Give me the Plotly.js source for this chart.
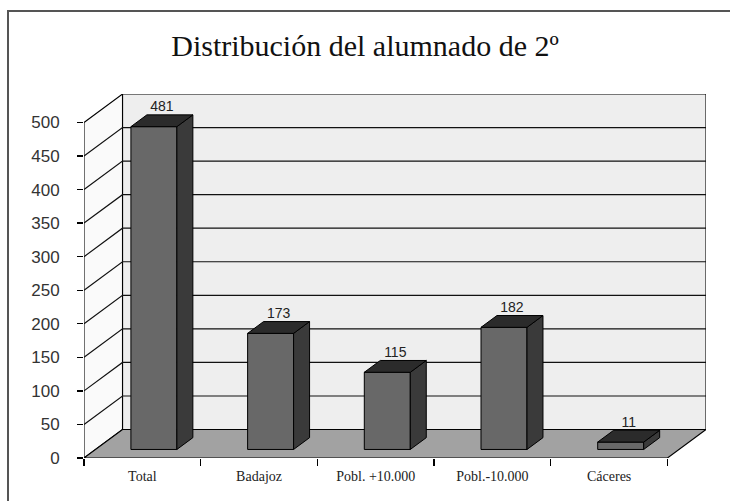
<!DOCTYPE html>
<html>
<head>
<meta charset="utf-8">
<script src="https://cdn.plot.ly/plotly-3.0.1.min.js"></script>
<style>
  html, body { margin: 0; padding: 0; background: #ffffff; }
  #wrap { position: relative; width: 730px; height: 501px; overflow: hidden; }
  #chart { width: 730px; height: 501px; }
  #frame { position: absolute; left: 7px; top: 10px; width: 760px; height: 540px;
           border-left: 2px solid #555; border-top: 2px solid #555; pointer-events: none; }
</style>
</head>
<body>
<div id="wrap">
  <div id="chart"></div>
  <div id="frame"></div>
</div>
<script>
// ---- data ----
const categories = ['Total', 'Badajoz', 'Pobl. +10.000', 'Pobl.-10.000', 'Cáceres'];
const values = [481, 173, 115, 182, 11];
const yTicks = [0, 50, 100, 150, 200, 250, 300, 350, 400, 450, 500];
const titleText = 'Distribución del alumnado de 2º';

// ---- pseudo-3D geometry (in axis units) ----
const DX = 0.33;   // depth offset along x (category units)
const DY = 42.4;   // depth offset along y (value units)
const FD0 = 0.30;  // front face depth fraction of bars
const FD1 = 0.715; // back face depth fraction of bars
const BW = 0.394;  // bar width
const YMAX = yTicks[yTicks.length - 1];
const n = categories.length;
const idx = categories.map((_, i) => i);

function pathOf(xs, ys) {
  return xs.map((x, k) => (k === 0 ? 'M' : 'L') + x + ',' + ys[k]).join(' ') + ' Z';
}

const shapes = [];
const edge = {color: '#000', width: 1.1};
// back wall
shapes.push({type: 'path', xref: 'x', yref: 'y', layer: 'below', line: edge, fillcolor: '#eeeeee',
  path: pathOf([-0.5 + DX, n - 0.5 + DX, n - 0.5 + DX, -0.5 + DX], [DY, DY, YMAX + DY, YMAX + DY])});
// left wall
shapes.push({type: 'path', xref: 'x', yref: 'y', layer: 'below', line: edge, fillcolor: '#fafafa',
  path: pathOf([-0.5, -0.5 + DX, -0.5 + DX, -0.5], [0, DY, YMAX + DY, YMAX])});
// floor
shapes.push({type: 'path', xref: 'x', yref: 'y', layer: 'below', line: edge, fillcolor: '#a2a2a2',
  path: pathOf([-0.5, n - 0.5, n - 0.5 + DX, -0.5 + DX], [0, 0, DY, DY])});
// gridlines
yTicks.forEach(t => {
  if (t === 0 || t === YMAX) return;
  shapes.push({type: 'path', xref: 'x', yref: 'y', layer: 'below',
    line: {color: '#111', width: 1.2},
    path: 'M' + (-0.5) + ',' + t + ' L' + (-0.5 + DX) + ',' + (t + DY) + ' L' + (n - 0.5 + DX) + ',' + (t + DY)});
});

const traces = [];
// bar front faces
traces.push({type: 'bar', hoverinfo: 'skip', showlegend: false,
  x: idx.map(i => i + FD0 * DX), y: values, base: values.map(() => FD0 * DY),
  width: BW, marker: {color: '#686868', line: {color: '#000', width: 1}}});

// bar side and top faces
const dd = FD1 - FD0;
values.forEach((v, i) => {
  const xl = i + FD0 * DX - BW / 2;
  const xr = i + FD0 * DX + BW / 2;
  const b = FD0 * DY;
  traces.push({type: 'scatter', mode: 'lines', hoverinfo: 'skip', showlegend: false,
    x: [xr, xr + dd * DX, xr + dd * DX, xr, xr],
    y: [b, b + dd * DY, b + v + dd * DY, b + v, b],
    fill: 'toself', fillcolor: '#3a3a3a', line: {color: '#000', width: 1}});
  traces.push({type: 'scatter', mode: 'lines', hoverinfo: 'skip', showlegend: false,
    x: [xl, xr, xr + dd * DX, xl + dd * DX, xl],
    y: [b + v, b + v, b + v + dd * DY, b + v + dd * DY, b + v],
    fill: 'toself', fillcolor: '#2b2b2b', line: {color: '#000', width: 1}});
});

// value labels
traces.push({type: 'scatter', mode: 'text', hoverinfo: 'skip', showlegend: false,
  xaxis: 'x2',
  x: idx.map(i => i + (FD0 + FD1) / 2 * DX),
  y: values.map(v => v + FD1 * DY),
  text: values.map(String), textposition: 'top center',
  textfont: {family: 'Liberation Sans, Arial, sans-serif', size: 14, color: '#222'},
  cliponaxis: false});

const boundaries = [];
for (let k = 0; k <= n; k++) boundaries.push(k - 0.5);

const serif = 'Liberation Serif, Times New Roman, serif';
const layout = {
  width: 730, height: 501,
  margin: {l: 84, r: 24, t: 94, b: 43},
  paper_bgcolor: 'rgba(0,0,0,0)', plot_bgcolor: 'rgba(0,0,0,0)',
  font: {family: serif, color: '#111'},
  showlegend: false,
  bargap: 0,
  shapes: shapes,
  title: {text: titleText, x: 0.5, xanchor: 'center', xref: 'container',
          y: 1 - 45 / 501, yanchor: 'middle', yref: 'container',
          font: {family: serif, size: 30, color: '#111'}},
  xaxis: {range: [-0.5, n - 0.5 + DX], tickmode: 'array', tickvals: boundaries,
          ticktext: boundaries.map(() => ''), ticks: 'outside', ticklen: 7, tickwidth: 1.3,
          tickcolor: '#000', showgrid: false, zeroline: false, showline: false, fixedrange: true},
  xaxis2: {overlaying: 'x', anchor: 'y', side: 'bottom', range: [-0.5, n - 0.5 + DX],
           tickmode: 'array', tickvals: idx, ticktext: categories, ticks: '',
           ticklabelstandoff: 8,
           tickfont: {family: serif, size: 14, color: '#222'},
           showgrid: false, zeroline: false, showline: false, fixedrange: true},
  yaxis: {range: [0, YMAX + DY], tickmode: 'array', tickvals: yTicks,
          ticks: 'outside', ticklen: 6, tickwidth: 1.3, tickcolor: '#000',
          ticklabelstandoff: 14,
          tickfont: {family: 'Liberation Sans, Arial, sans-serif', size: 17, color: '#333'},
          showgrid: false, zeroline: false, showline: false, fixedrange: true}
};

Plotly.newPlot('chart', traces, layout, {displayModeBar: false, staticPlot: true});
</script>
</body>
</html>
